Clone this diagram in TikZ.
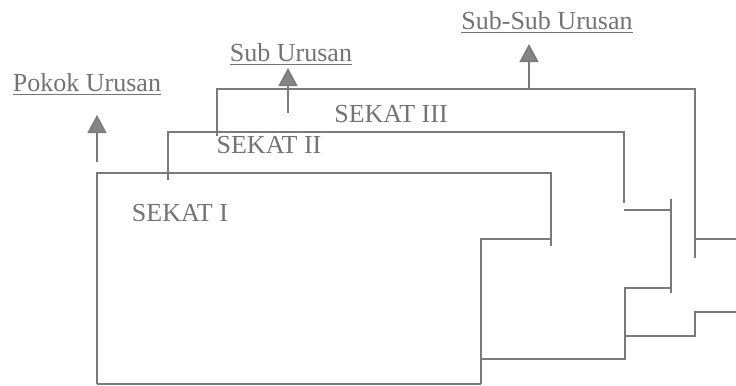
\documentclass[tikz,border=0pt]{standalone}
\usepackage{fontspec}
\setmainfont{Liberation Serif}
\usetikzlibrary{arrows.meta}

\begin{document}
\begin{tikzpicture}[
  x=0.5pt, y=-0.5pt,
  ln/.style={draw=black!52, line width=0.75pt},
  lbl/.style={text=black!55, font=\fontsize{13}{15}\selectfont, anchor=base, inner sep=0pt},
  arr/.style={ln, -{Triangle[width=9.5pt, length=9pt, fill=black!48]}}
]
\useasboundingbox (0,0) rectangle (736,386);

\node[lbl] (pokok) at (87,91) {\underline{Pokok Urusan}};
\node[lbl] (sub) at (291,61) {\underline{Sub Urusan}};
\node[lbl] (subsub) at (547,29) {\underline{Sub-Sub Urusan}};
\node[lbl] (sekatIII) at (391,122) {SEKAT III};
\node[lbl] (sekatII) at (269,153) {SEKAT II};
\node[lbl] (sekatI) at (180,221) {SEKAT I};

\coordinate (pokokfoot) at (97,162); \coordinate (pokoktip) at (97,115);
\coordinate (subfoot) at (288,113); \coordinate (subtip) at (288,68);
\coordinate (subsubfoot) at (529,89); \coordinate (subsubtip) at (529,44);

\draw[ln] (97,384) -- (97,173) -- (551,173) -- (551,246);
\draw[ln] (481,384) -- (481,239) -- (551,239);
\draw[ln] (97,384) -- (481,384);

\draw[ln] (168,180) -- (168,132) -- (624,132) -- (624,203);
\draw[ln] (624,210) -- (671,210);
\draw[ln] (671,199) -- (671,293);
\draw[ln] (671,288) -- (625,288) -- (625,359) -- (481,359);

\draw[ln] (217,136) -- (217,89) -- (695,89) -- (695,258);
\draw[ln] (695,239) -- (736,239);
\draw[ln] (736,312) -- (695,312) -- (695,336) -- (625,336);

\draw[arr] (pokokfoot) -- (pokoktip);
\draw[arr] (subfoot) -- (subtip);
\draw[arr] (subsubfoot) -- (subsubtip);
\end{tikzpicture}
\end{document}
